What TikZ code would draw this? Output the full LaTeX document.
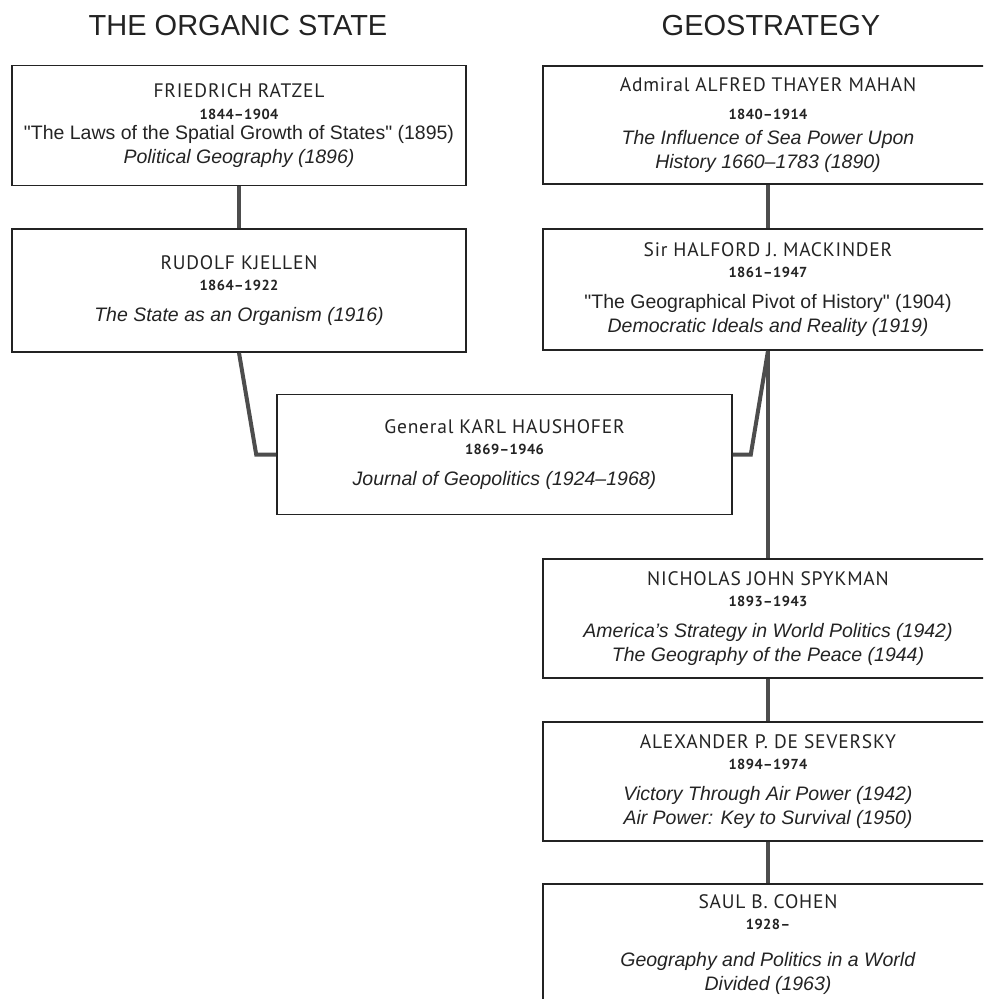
\documentclass[tikz,border=0pt]{standalone}
\usepackage{fontspec}
\setmainfont{Liberation Sans}
\newfontfamily\namefont[LetterSpace=4]{PT Sans}
\newfontfamily\yearfont[LetterSpace=3]{PT Sans}
\definecolor{ink}{HTML}{232323}
\definecolor{linkgray}{HTML}{4D4D4D}
\NewDocumentCommand{\person}{O{7pt} O{-2.5pt} m m m}{{\namefont\fontsize{19.5}{24}\selectfont #3}\\[#2]{\yearfont\bfseries\fontsize{14.5}{24}\selectfont #4}\\[#1]#5}
\begin{document}
\begin{tikzpicture}[x=1pt,y=-1pt,
	person/.style={draw=ink,line width=1.6pt,text=ink,align=center,inner sep=0pt,minimum height=120pt,font=\fontsize{19.5}{24}\selectfont},
	leftbox/.style={person,minimum width=454pt},
	rightbox/.style={person,minimum width=450pt},
	heading/.style={text=ink,font=\fontsize{29}{34}\selectfont},
	link/.style={draw=linkgray,line width=4pt}]
\useasboundingbox (0,0) rectangle (983,999);
\clip (0,0) rectangle (983,999);

\node[heading] (organic) at (238,26) {THE ORGANIC STATE};
\node[heading] (geo) at (771,26) {GEOSTRATEGY};

\node[leftbox] (ratzel) at (239,125.5) {\person[-4pt]{FRIEDRICH RATZEL}{1844–1904}{\textquotedbl The Laws of the Spatial Growth of States\textquotedbl{} (1895)\\ \textit{Political Geography (1896)}}};
\node[leftbox,minimum height=123pt] (kjellen) at (239,290.5) {\person{RUDOLF KJELLEN}{1864–1922}{\textit{The State as an Organism (1916)}}};
\node[leftbox,minimum width=455pt] (haushofer) at (504.5,454.5) {\person{General KARL HAUSHOFER}{1869–1946}{\textit{Journal of Geopolitics (1924–1968)}}};

\node[rightbox,minimum height=118pt] (mahan) at (768,125) {\person[1pt][3.5pt]{Admiral ALFRED THAYER MAHAN}{1840–1914}{\textit{The Influence of Sea Power Upon}\\ \textit{History 1660–1783 (1890)}}};
\node[rightbox,minimum height=121pt] (mackinder) at (768,289.5) {\person{Sir HALFORD J. MACKINDER}{1861–1947}{\textquotedbl The Geographical Pivot of History\textquotedbl{} (1904)\\ \textit{Democratic Ideals and Reality (1919)}}};
\node[rightbox,minimum height=119pt] (spykman) at (768,618.5) {\person{NICHOLAS JOHN SPYKMAN}{1893–1943}{\textit{America's Strategy in World Politics (1942)}\\ \textit{The Geography of the Peace (1944)}}};
\node[rightbox,minimum height=119pt] (seversky) at (768,781.5) {\person{ALEXANDER P. DE SEVERSKY}{1894–1974}{\textit{Victory Through Air Power (1942)}\\ \textit{Air Power: Key to Survival (1950)}}};
\node[rightbox,minimum height=121pt] (cohen) at (768,944.5) {\person[13pt]{SAUL B. COHEN}{1928–}{\textit{Geography and Politics in a World}\\ \textit{Divided (1963)}}};

\draw[link] (ratzel) -- (kjellen);
\draw[link] (mahan) -- (mackinder);
\draw[link] (kjellen.south) -- ([xshift=-20pt]haushofer.west) -- (haushofer.west);
\draw[link] (mackinder.south) -- ([xshift=18pt]haushofer.east) -- (haushofer.east);
\draw[link] (mackinder) -- (spykman);
\draw[link] (spykman) -- (seversky);
\draw[link] (seversky) -- (cohen);
\end{tikzpicture}
\end{document}
